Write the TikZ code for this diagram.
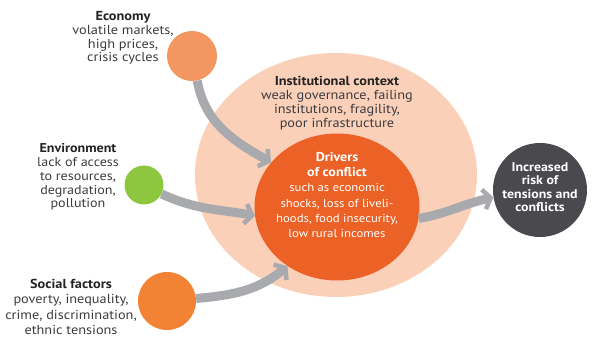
\documentclass[tikz,border=0pt]{standalone}
\usepackage{fontspec}
\setmainfont{PT Sans}[FakeStretch=1.1]
\usetikzlibrary{arrows.meta,shapes.geometric}

\definecolor{peach}{RGB}{251,208,184}
\definecolor{driverorange}{RGB}{236,98,38}
\definecolor{econorange}{RGB}{244,150,96}
\definecolor{envgreen}{RGB}{141,198,63}
\definecolor{socorange}{RGB}{243,131,52}
\definecolor{riskgrey}{RGB}{74,74,78}
\definecolor{arrowgrey}{RGB}{168,170,174}
\definecolor{titlegrey}{RGB}{35,35,35}
\definecolor{bodygrey}{RGB}{60,60,64}

\newcommand{\lbltitle}[1]{{\bfseries\color{titlegrey}#1}}

\tikzset{
  blob/.style={ellipse,inner sep=0pt},
  factortext/.style={align=center,text=bodygrey},
  whitetext/.style={align=center,text=white,font=\fontsize{11.6}{15.2}\selectfont},
  flow/.style={draw=arrowgrey,line width=9pt,
    -{Straight Barb[length=7pt,width=20pt,line width=4.5pt]}},
}

\begin{document}
\begin{tikzpicture}[x=1pt,y=1pt]
  \useasboundingbox (0,0) rectangle (593,340);

  %context and drivers
  \node[blob,fill=peach,minimum width=282pt,minimum height=244pt] (context) at (336,165) {};
  \node[blob,fill=driverorange,minimum width=165pt,minimum height=147pt] (drivers) at (337,133) {};

  %factors
  \node[circle,inner sep=0pt,fill=econorange,minimum size=50pt] (econ) at (192,284) {};
  \node[circle,inner sep=0pt,fill=envgreen,minimum size=39pt] (env) at (144,155) {};
  \node[circle,inner sep=0pt,fill=socorange,minimum size=58pt] (soc) at (167,39) {};
  \node[circle,inner sep=0pt,fill=riskgrey,minimum size=94pt] (risk) at (540,150) {};

  %texts
  \node[factortext,font=\fontsize{13}{13.8}\selectfont] (econtext) at (123,302)
    {\lbltitle{Economy}\\volatile markets,\\high prices,\\crisis cycles};
  \node[factortext,font=\fontsize{12.8}{13.8}\selectfont] (envtext) at (78,163)
    {\lbltitle{Environment}\\lack of access\\to resources,\\degradation,\\pollution};
  \node[factortext,font=\fontsize{13}{15.5}\selectfont] (soctext) at (71,33)
    {\lbltitle{Social factors}\\poverty, inequality,\\crime, discrimination,\\ethnic tensions};
  \node[factortext,font=\fontsize{13}{13.8}\selectfont] (contexttext) at (337,237)
    {\lbltitle{Institutional context}\\weak governance, failing\\institutions, fragility,\\poor infrastructure};
  \node[whitetext] (driverstext) at (337,145)
    {{\fontsize{12.8}{13}\selectfont\bfseries Drivers}\\{\fontsize{12.8}{13}\selectfont\bfseries of conflict}\\such as economic\\shocks, loss of liveli-\\hoods, food insecurity,\\low rural incomes};
  \node[whitetext,font=\bfseries\fontsize{12.6}{13.4}\selectfont] (risktext) at ([yshift=3pt]risk.center)
    {Increased\\risk of\\tensions and\\conflicts};

  %arrows
  \draw[flow] (econ.-78) to[out=-80,in=150] (drivers.146);
  \draw[flow] (env.-27) to[out=-25,in=170] (drivers.186);
  \draw[flow] (soc.5) to[out=5,in=220] (drivers.230);
  \draw[flow] (drivers.352) to[out=10,in=192] (risk.189);
\end{tikzpicture}
\end{document}
